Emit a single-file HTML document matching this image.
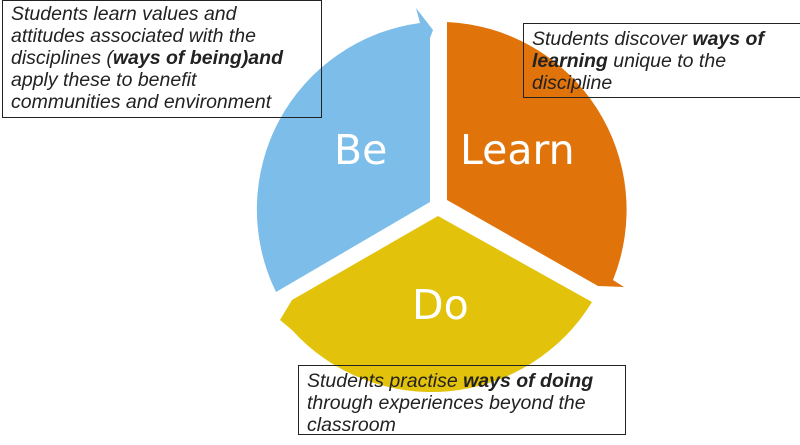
<!DOCTYPE html>
<html><head><meta charset="utf-8"><style>
body{margin:0;background:#fff;width:800px;height:445px;overflow:hidden;position:relative;font-family:"DejaVu Sans","Liberation Sans",sans-serif}
svg{position:absolute;left:0;top:0}
.box{position:absolute;border:1.5px solid #222;font-style:italic;color:#222;font-size:19.5px;line-height:22px;padding:2px 0 0 8px;box-sizing:border-box;letter-spacing:0px;font-family:"Liberation Sans",sans-serif;white-space:nowrap}
.box b{font-weight:bold}
.lbl{position:absolute;color:#fff;font-size:41px;font-family:"DejaVu Sans","Liberation Sans",sans-serif}
</style></head><body>
<svg width="800" height="445">
<path d="M447,200 L447,22 A188,188 0 0 1 613,280 L624,287 L598,286 Z" fill="#e0740b"/>
<path d="M430,202 L276,292 A188,188 0 0 1 420,23 L416,8 L433,30 L430,38 Z" fill="#7cbde9"/>
<path d="M438,216 L592,302 A188,188 0 0 1 292,330 L280,320 L292,300 Z" fill="#e2c20a"/>
</svg>
<div class="lbl" style="left:334px;top:126px">Be</div>
<div class="lbl" style="left:460px;top:126px">Learn</div>
<div class="lbl" style="left:412px;top:281px">Do</div>
<div class="box" style="left:2px;top:0px;width:320px;height:118px">Students learn values and<br>attitudes associated with the<br>disciplines (<b>ways of being)and</b><br>apply these to benefit<br>communities and environment</div>
<div class="box" style="left:523px;top:23px;width:290px;height:75px;padding-top:4px">Students discover <b>ways of<br>learning</b> unique to the<br>discipline</div>
<div class="box" style="left:298px;top:365px;width:328px;height:70px;padding-top:4px">Students practise <b>ways of doing</b><br>through experiences beyond the<br>classroom</div>
</body></html>
